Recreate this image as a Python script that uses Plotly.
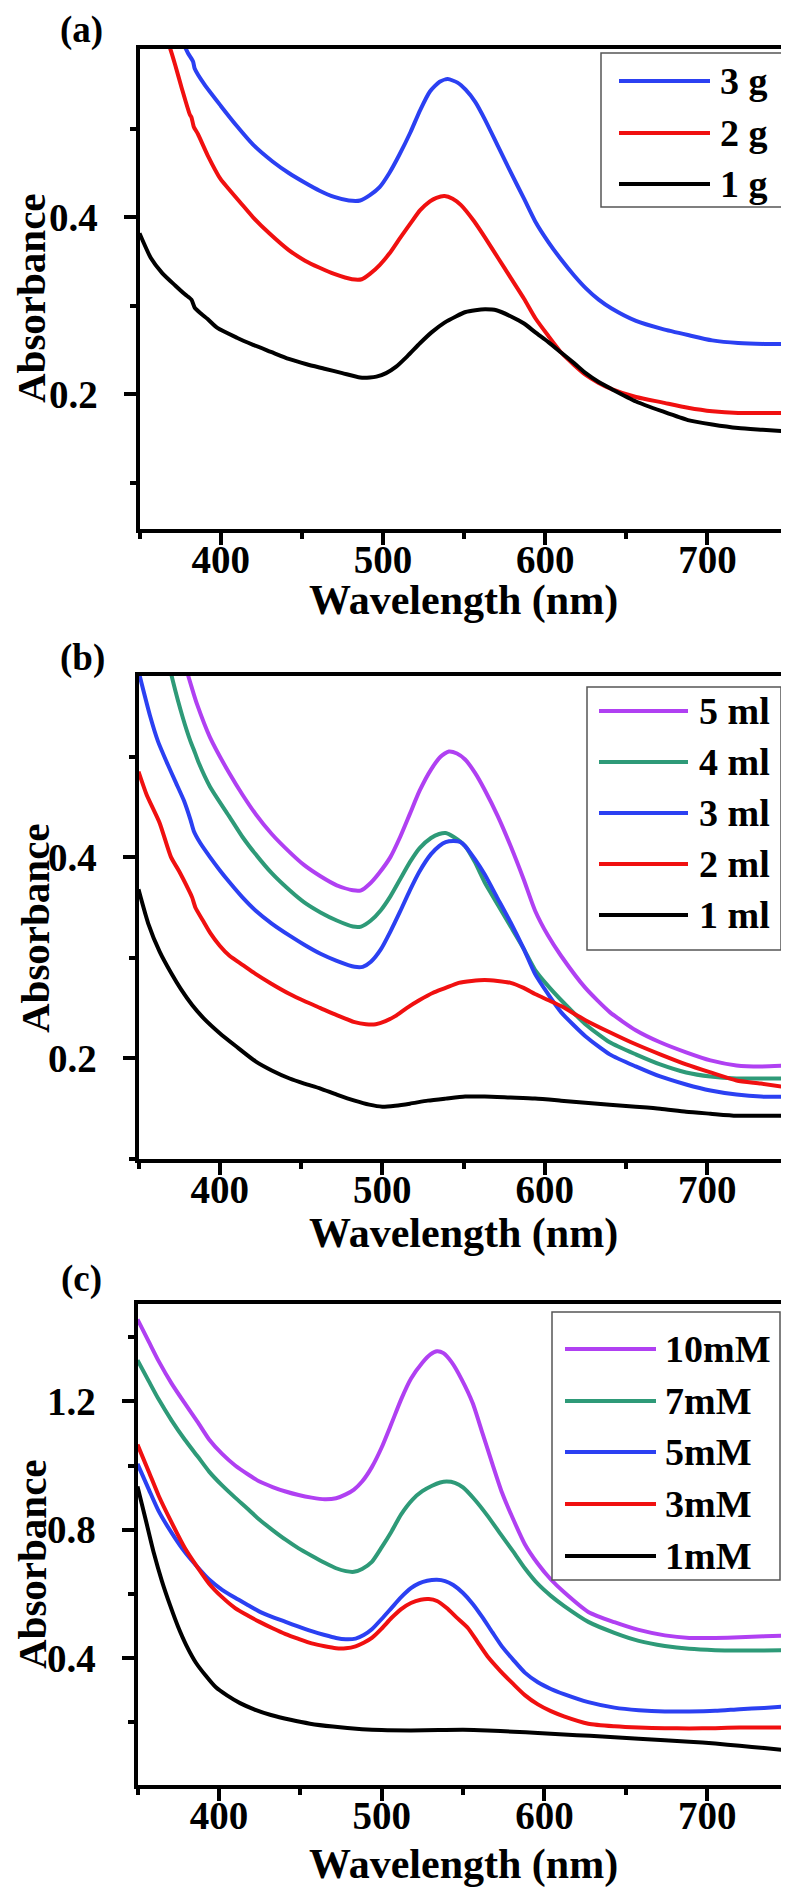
import plotly.graph_objects as go

W, H = 789, 1888
FONT = "Liberation Serif"

# ---------------- Panel (a): mass series ----------------
a_labels = ["3 g", "2 g", "1 g"]
a_colors = ["#2B40F2", "#F01010", "#000000"]

a_3g_wl = [376, 380, 383, 384, 390, 400, 410, 420, 432, 442, 452, 461, 470, 479, 486, 492, 498, 504, 510, 517,
           523, 529, 535, 540, 546, 551, 557, 563, 571, 579, 587, 594, 602, 610, 618, 625, 633, 641, 656, 672,
           688, 703, 719, 735, 750]
a_3g_abs = [0.600, 0.585, 0.576, 0.568, 0.550, 0.526, 0.503, 0.482, 0.463, 0.450, 0.439, 0.430, 0.423, 0.419, 0.419,
            0.425, 0.434, 0.450, 0.470, 0.496, 0.521, 0.542, 0.553, 0.556, 0.552, 0.544, 0.530, 0.510, 0.480, 0.450,
            0.421, 0.395, 0.372, 0.352, 0.334, 0.320, 0.307, 0.297, 0.283, 0.274, 0.267, 0.261, 0.258, 0.257, 0.257]

a_2g_wl = [366, 369, 372, 376, 381, 382, 383.5, 386, 392, 400, 405, 412, 420, 430, 442, 452, 461, 470, 481, 487,
           492, 498, 504, 510, 517, 523, 529, 533, 538, 543, 548, 556, 563, 571, 579, 587, 594, 602, 610, 618,
           625, 633, 641, 656, 672, 688, 703, 719, 734, 750]
a_2g_abs = [0.605, 0.590, 0.572, 0.546, 0.516, 0.513, 0.502, 0.494, 0.470, 0.443, 0.432, 0.417, 0.400, 0.382, 0.363,
            0.351, 0.343, 0.336, 0.330, 0.330, 0.336, 0.346, 0.359, 0.375, 0.393, 0.408, 0.418, 0.422, 0.424, 0.421,
            0.414, 0.396, 0.377, 0.354, 0.331, 0.308, 0.286, 0.266, 0.247, 0.233, 0.222, 0.213, 0.206, 0.197, 0.191,
            0.185, 0.181, 0.179, 0.179, 0.179]

a_1g_wl = [350, 357, 364, 372, 378, 382, 384, 388, 392, 398, 410, 420, 431, 442, 453, 464, 475, 486, 492, 496,
           502, 508, 515, 523, 530, 538, 545, 551, 557, 563, 570, 579, 587, 594, 602, 610, 618, 625, 633, 641,
           656, 672, 688, 703, 719, 734, 750]
a_1g_abs = [0.382, 0.354, 0.337, 0.323, 0.313, 0.307, 0.298, 0.291, 0.285, 0.275, 0.264, 0.256, 0.248, 0.240, 0.234,
            0.229, 0.224, 0.219, 0.219, 0.220, 0.224, 0.231, 0.243, 0.258, 0.270, 0.281, 0.288, 0.293, 0.295, 0.296,
            0.295, 0.288, 0.280, 0.270, 0.259, 0.247, 0.235, 0.224, 0.214, 0.206, 0.192, 0.181, 0.171, 0.166, 0.162,
            0.160, 0.158]

# ---------------- Panel (b): volume series ----------------
b_labels = ["5 ml", "4 ml", "3 ml", "2 ml", "1 ml"]
b_colors = ["#B040F2", "#2E9A78", "#2B40F2", "#F01010", "#000000"]

b_5ml_wl = [378, 381, 384, 386, 394, 406, 414, 422, 432, 443, 452, 462, 472, 482, 487, 492, 498, 505, 511, 517,
            523, 530, 536, 541, 546, 551, 557, 563, 571, 579, 587, 594, 602, 610, 625, 640, 656, 671, 687, 702,
            718, 733, 750]
b_5ml_abs = [0.595, 0.578, 0.562, 0.552, 0.519, 0.483, 0.462, 0.443, 0.423, 0.405, 0.392, 0.381, 0.372, 0.367, 0.367,
             0.373, 0.384, 0.400, 0.420, 0.443, 0.466, 0.487, 0.500, 0.505, 0.503, 0.497, 0.484, 0.467, 0.441, 0.411,
             0.378, 0.347, 0.322, 0.302, 0.270, 0.246, 0.228, 0.216, 0.206, 0.198, 0.193, 0.192, 0.193]

b_4ml_wl = [369, 371, 377, 382, 384, 387, 394, 406, 414, 422, 432, 443, 452, 462, 472, 482, 487, 493, 499, 505,
            511, 517, 523, 530, 535, 539, 544, 551, 557, 563, 571, 579, 587, 594, 602, 610, 625, 640, 656, 671,
            687, 702, 718, 733, 750]
b_4ml_abs = [0.590, 0.576, 0.540, 0.515, 0.507, 0.494, 0.470, 0.440, 0.420, 0.403, 0.384, 0.367, 0.355, 0.345, 0.337,
             0.331, 0.331, 0.337, 0.347, 0.361, 0.378, 0.395, 0.409, 0.419, 0.423, 0.424, 0.420, 0.411, 0.395, 0.375,
             0.353, 0.331, 0.309, 0.288, 0.272, 0.258, 0.234, 0.216, 0.204, 0.194, 0.186, 0.182, 0.180, 0.180, 0.180]

b_3ml_wl = [350, 352, 357, 362, 368, 373, 378, 382, 384, 388, 394, 400, 406, 414, 422, 432, 443, 452, 462, 472,
            483, 488, 493, 499, 505, 511, 517, 523, 530, 535, 539, 544, 548, 551, 557, 563, 571, 579, 587, 594,
            602, 610, 625, 640, 656, 671, 687, 702, 718, 733, 750]
b_3ml_abs = [0.585, 0.572, 0.541, 0.515, 0.492, 0.474, 0.456, 0.437, 0.426, 0.414, 0.400, 0.387, 0.375, 0.360, 0.347,
             0.334, 0.322, 0.313, 0.304, 0.297, 0.291, 0.291, 0.296, 0.308, 0.326, 0.346, 0.367, 0.386, 0.403, 0.411,
             0.415, 0.416, 0.415, 0.411, 0.398, 0.383, 0.359, 0.335, 0.309, 0.284, 0.264, 0.246, 0.222, 0.204, 0.192,
             0.182, 0.174, 0.168, 0.164, 0.162, 0.162]

b_2ml_wl = [350, 355, 363, 370, 375, 381, 383, 385, 390, 394, 400, 406, 414, 422, 432, 443, 452, 462, 472, 483,
            490, 496, 502, 508, 515, 523, 531, 539, 547, 555, 563, 571, 579, 587, 594, 602, 610, 625, 640, 656,
            671, 687, 702, 718, 733, 750]
b_2ml_abs = [0.485, 0.462, 0.434, 0.400, 0.386, 0.367, 0.360, 0.350, 0.336, 0.325, 0.312, 0.302, 0.293, 0.284, 0.274,
             0.264, 0.257, 0.250, 0.243, 0.236, 0.234, 0.234, 0.237, 0.242, 0.250, 0.258, 0.265, 0.270, 0.275, 0.277,
             0.278, 0.277, 0.275, 0.270, 0.264, 0.258, 0.252, 0.238, 0.226, 0.214, 0.204, 0.194, 0.186, 0.178, 0.175,
             0.171]

b_1ml_wl = [350, 356, 363, 370, 376, 383, 390, 400, 410, 422, 432, 443, 452, 462, 472, 483, 492, 500, 508, 517,
            528, 539, 551, 563, 579, 594, 610, 625, 640, 656, 671, 687, 702, 718, 733, 750]
b_1ml_abs = [0.368, 0.334, 0.306, 0.285, 0.269, 0.253, 0.240, 0.225, 0.212, 0.197, 0.188, 0.180, 0.175, 0.170, 0.164,
             0.158, 0.154, 0.152, 0.153, 0.155, 0.158, 0.160, 0.162, 0.162, 0.161, 0.160, 0.158, 0.156, 0.154, 0.152,
             0.150, 0.147, 0.145, 0.143, 0.143, 0.143]

# ---------------- Panel (c): concentration series ----------------
c_labels = ["10mM", "7mM", "5mM", "3mM", "1mM"]
c_colors = ["#B040F2", "#2E9A78", "#2B40F2", "#F01010", "#000000"]

c_10mM_wl = [350, 357, 363, 371, 379, 387, 394, 402, 410, 418, 425, 433, 441, 449, 457, 465, 472, 478, 483, 488,
             494, 500, 506, 512, 518, 525, 530, 534, 538, 543, 549, 556, 562, 568, 574, 581, 588, 596, 604, 612,
             627, 643, 658, 674, 689, 705, 720, 735, 750]
c_10mM_abs = [1.455, 1.385, 1.325, 1.255, 1.194, 1.135, 1.081, 1.036, 1.000, 0.972, 0.950, 0.933, 0.919, 0.908, 0.900,
              0.895, 0.898, 0.910, 0.925, 0.950, 0.995, 1.056, 1.130, 1.206, 1.270, 1.320, 1.346, 1.356, 1.350, 1.322,
              1.270, 1.194, 1.100, 1.006, 0.915, 0.831, 0.755, 0.694, 0.645, 0.606, 0.544, 0.512, 0.488, 0.471, 0.463,
              0.463, 0.465, 0.468, 0.471]

c_7mM_wl = [350, 357, 363, 371, 379, 387, 394, 402, 410, 418, 425, 433, 441, 449, 457, 465, 472, 478, 483, 488,
            494, 500, 506, 512, 519, 525, 531, 536, 540, 545, 550, 557, 565, 573, 581, 588, 596, 604, 612, 627,
            643, 658, 674, 689, 705, 720, 735, 750]
c_7mM_abs = [1.328, 1.262, 1.206, 1.140, 1.081, 1.028, 0.981, 0.938, 0.900, 0.864, 0.831, 0.799, 0.769, 0.742, 0.719,
             0.697, 0.680, 0.671, 0.669, 0.678, 0.700, 0.745, 0.794, 0.848, 0.894, 0.920, 0.937, 0.947, 0.950, 0.946,
             0.932, 0.895, 0.844, 0.787, 0.731, 0.680, 0.631, 0.594, 0.563, 0.513, 0.479, 0.454, 0.438, 0.429, 0.425,
             0.424, 0.424, 0.425]

c_5mM_wl = [350, 357, 363, 371, 379, 387, 394, 402, 410, 418, 425, 433, 441, 449, 457, 465, 472, 478, 484, 489,
            494, 500, 506, 512, 518, 523, 528, 534, 539, 544, 550, 556, 562, 568, 574, 581, 588, 596, 604, 612,
            627, 643, 658, 674, 689, 705, 720, 735, 750]
c_5mM_abs = [1.005, 0.925, 0.858, 0.790, 0.731, 0.683, 0.645, 0.613, 0.588, 0.565, 0.545, 0.528, 0.513, 0.498, 0.484,
             0.472, 0.463, 0.459, 0.461, 0.472, 0.490, 0.522, 0.556, 0.590, 0.618, 0.633, 0.641, 0.644, 0.640, 0.628,
             0.603, 0.569, 0.527, 0.481, 0.436, 0.394, 0.355, 0.325, 0.304, 0.288, 0.263, 0.246, 0.238, 0.234, 0.234,
             0.236, 0.241, 0.245, 0.250]

c_3mM_wl = [350, 357, 363, 371, 379, 387, 394, 402, 410, 418, 425, 433, 441, 449, 457, 465, 472, 478, 484, 489,
            494, 500, 506, 512, 518, 524, 529, 534, 540, 546, 553, 559, 565, 573, 581, 588, 596, 604, 612, 627,
            643, 658, 674, 689, 705, 720, 735, 750]
c_3mM_abs = [1.065, 0.980, 0.906, 0.822, 0.744, 0.682, 0.632, 0.590, 0.556, 0.532, 0.513, 0.493, 0.475, 0.460, 0.446,
             0.437, 0.431, 0.431, 0.437, 0.448, 0.463, 0.492, 0.525, 0.553, 0.572, 0.582, 0.584, 0.578, 0.556, 0.527,
             0.494, 0.450, 0.406, 0.360, 0.319, 0.285, 0.256, 0.235, 0.219, 0.196, 0.188, 0.184, 0.182, 0.181, 0.182,
             0.184, 0.184, 0.184]

c_1mM_wl = [350, 355, 360, 365, 370, 375, 380, 386, 392, 398, 405, 413, 422, 432, 444, 456, 470, 488, 500, 518,
            535, 550, 565, 581, 596, 612, 628, 643, 658, 674, 689, 705, 720, 735, 750]
c_1mM_abs = [0.935, 0.832, 0.728, 0.640, 0.565, 0.497, 0.440, 0.385, 0.345, 0.310, 0.284, 0.260, 0.240, 0.223, 0.208,
             0.196, 0.187, 0.179, 0.176, 0.175, 0.176, 0.177, 0.175, 0.171, 0.167, 0.162, 0.158, 0.154, 0.149, 0.144,
             0.140, 0.134, 0.127, 0.120, 0.112]

# ---------------- Axes ticks ----------------
x_range = [350, 750]
x_major = [400, 500, 600, 700]
x_minor = [350, 450, 550, 650, 750]
a_y_range = [0.048, 0.590]
b_y_range = [0.100, 0.580]
c_y_range = [0.005, 1.503]
ab_y_major = [0.2, 0.4]
ab_y_minor = [0.1, 0.3, 0.5]
c_y_major = [0.4, 0.8, 1.2]
c_y_minor = [0.2, 0.6, 1.0, 1.4]

panel_tags = ["(a)", "(b)", "(c)"]
x_title = "Wavelength (nm)"
y_title = "Absorbance"


def px(x):
    return x / W


def py(y):
    return 1 - y / H


panels = [
    dict(tag=panel_tags[0], labels=a_labels, colors=a_colors,
         series=[(a_3g_wl, a_3g_abs), (a_2g_wl, a_2g_abs), (a_1g_wl, a_1g_abs)],
         yr=a_y_range, ymaj=ab_y_major, ymin=ab_y_minor,
         frame=(131.5, 780.5, 41, 521),
         tagpos=(73, 22), xt_y=592, yt=(23, 290),
         leg=dict(box=(593, 779, 45, 199), lx=(611, 702), tx=711, rows=[73, 125, 176])),
    dict(tag=panel_tags[1], labels=b_labels, colors=b_colors,
         series=[(b_5ml_wl, b_5ml_abs), (b_4ml_wl, b_4ml_abs), (b_3ml_wl, b_3ml_abs),
                 (b_2ml_wl, b_2ml_abs), (b_1ml_wl, b_1ml_abs)],
         yr=b_y_range, ymaj=ab_y_major, ymin=ab_y_minor,
         frame=(130.5, 780.5, 668, 1151),
         tagpos=(74, 650), xt_y=1225, yt=(27, 920),
         leg=dict(box=(579, 773, 679, 942), lx=(591, 680), tx=690, rows=[703, 754, 805, 856, 907])),
    dict(tag=panel_tags[2], labels=c_labels, colors=c_colors,
         series=[(c_10mM_wl, c_10mM_abs), (c_7mM_wl, c_7mM_abs), (c_5mM_wl, c_5mM_abs),
                 (c_3mM_wl, c_3mM_abs), (c_1mM_wl, c_1mM_abs)],
         yr=c_y_range, ymaj=c_y_major, ymin=c_y_minor,
         frame=(129.5, 780.5, 1296, 1777),
         tagpos=(73, 1271), xt_y=1856, yt=(24, 1556),
         leg=dict(box=(544, 772, 1304, 1572), lx=(557, 648), tx=656, rows=[1341, 1393, 1444, 1496, 1548])),
]

fig = go.Figure()
shapes = []
annotations = []
layout_axes = {}

for i, p in enumerate(panels, start=1):
    xa = "x" if i == 1 else f"x{i}"
    ya = "y" if i == 1 else f"y{i}"
    for (wl, ab), name, col in zip(p["series"], p["labels"], p["colors"]):
        fig.add_trace(go.Scatter(x=wl, y=ab, mode="lines", name=name,
                                 line=dict(color=col, width=4, shape="spline", smoothing=0.6),
                                 xaxis=xa, yaxis=ya, showlegend=False, hoverinfo="skip"))
    L, R, T, B = p["frame"]
    common = dict(showline=True, linewidth=4, linecolor="black", mirror=True,
                  ticks="outside", tickwidth=4, tickcolor="black", ticklen=12,
                  showgrid=False, zeroline=False,
                  tickfont=dict(family=FONT, size=39, color="black", weight="bold"))
    layout_axes["xaxis" if i == 1 else f"xaxis{i}"] = dict(
        domain=[px(L), px(R)], anchor=ya, range=x_range,
        tickmode="array", tickvals=x_major, ticklabelstandoff=-19,
        minor=dict(tickmode="array", tickvals=x_minor, ticks="outside", ticklen=6,
                   tickwidth=4, tickcolor="black", showgrid=False),
        **common)
    layout_axes["yaxis" if i == 1 else f"yaxis{i}"] = dict(
        domain=[py(B), py(T)], anchor=xa, range=p["yr"],
        tickmode="array", tickvals=p["ymaj"], ticklabelstandoff=18,
        minor=dict(tickmode="array", tickvals=p["ymin"], ticks="outside", ticklen=6,
                   tickwidth=4, tickcolor="black", showgrid=False),
        **common)

    # panel tag
    annotations.append(dict(text=p["tag"], x=px(p["tagpos"][0]), y=py(p["tagpos"][1]),
                            xref="paper", yref="paper", showarrow=False,
                            xanchor="center", yanchor="middle",
                            font=dict(family=FONT, size=37, color="black", weight="bold")))
    # axis titles
    annotations.append(dict(text=x_title, x=px((L + R) / 2), y=py(p["xt_y"]),
                            xref="paper", yref="paper", showarrow=False,
                            xanchor="center", yanchor="middle",
                            font=dict(family=FONT, size=42, color="black", weight="bold")))
    annotations.append(dict(text=y_title, x=px(p["yt"][0]), y=py(p["yt"][1]), textangle=-90,
                            xref="paper", yref="paper", showarrow=False,
                            xanchor="center", yanchor="middle",
                            font=dict(family=FONT, size=41, color="black", weight="bold")))
    # legend box
    lg = p["leg"]
    bx0, bx1, by0, by1 = lg["box"]
    shapes.append(dict(type="rect", xref="paper", yref="paper",
                       x0=px(bx0), x1=px(bx1), y0=py(by1), y1=py(by0),
                       line=dict(color="#555555", width=1.5), fillcolor="white", layer="above"))
    for name, col, ry in zip(p["labels"], p["colors"], lg["rows"]):
        shapes.append(dict(type="line", xref="paper", yref="paper",
                           x0=px(lg["lx"][0]), x1=px(lg["lx"][1]), y0=py(ry), y1=py(ry),
                           line=dict(color=col, width=4), layer="above"))
        annotations.append(dict(text=name, x=px(lg["tx"]), y=py(ry), xref="paper", yref="paper",
                                showarrow=False, xanchor="left", yanchor="middle", borderpad=0,
                                font=dict(family=FONT, size=38, color="black", weight="bold")))

fig.update_layout(
    width=W, height=H,
    margin=dict(l=0, r=0, t=0, b=0),
    paper_bgcolor="white", plot_bgcolor="white",
    showlegend=False,
    shapes=shapes, annotations=annotations,
    **layout_axes,
)

fig.write_html("out.html")
